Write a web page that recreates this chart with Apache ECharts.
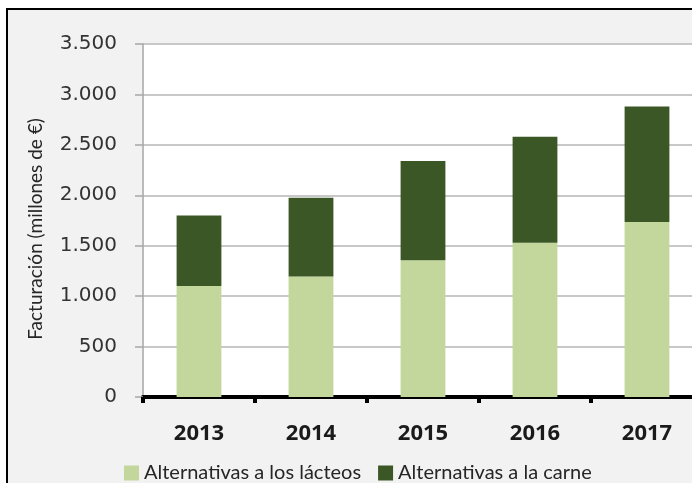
<!DOCTYPE html>
<html>
<head>
<meta charset="utf-8">
<script src="https://cdn.jsdelivr.net/npm/echarts@6/dist/echarts.min.js"></script>
<style>
  html, body { margin: 0; padding: 0; background: #ffffff; overflow: hidden; }
  #wrap { position: relative; width: 720px; height: 483px; overflow: hidden; background: #f2f2f2; }
  #frame {
    position: absolute; left: 6px; top: 8px; width: 900px; height: 700px;
    border-left: 2.5px solid #000000; border-top: 2.5px solid #000000;
  }
  #cutL { position: absolute; left: 0; top: 0; width: 6px; height: 483px; background: #ffffff; }
  #cutT { position: absolute; left: 0; top: 0; width: 720px; height: 8px; background: #ffffff; }
  #chart { position: absolute; left: 0; top: 0; width: 720px; height: 483px; }
</style>
</head>
<body>
<div id="wrap">
  <div id="cutL"></div>
  <div id="cutT"></div>
  <div id="frame"></div>
  <div id="chart"></div>
</div>
<script>
// Facturación anual de alternativas vegetales (millones de €)
const years = ['2013', '2014', '2015', '2016', '2017'];
const lacteos = [1100, 1195, 1355, 1530, 1735];
const carne = [700, 780, 985, 1050, 1145];
const yTicks = [0, 500, 1000, 1500, 2000, 2500, 3000, 3500];
const yTitle = 'Facturación (millones de €)';

const seriesNames = ['Alternativas a los lácteos', 'Alternativas a la carne'];
const colors = ['#c3d69b', '#3b5725'];

function fmtThousands(v) {
  return String(v).replace(/\B(?=(\d{3})+(?!\d))/g, '.');
}

const chart = echarts.init(document.getElementById('chart'), null, { renderer: 'canvas' });

chart.setOption({
  animation: false,
  backgroundColor: 'transparent',
  graphic: [{
    // vertical axis title, read bottom-to-top
    type: 'text',
    x: 36, y: 229,
    rotation: Math.PI / 2,
    silent: true,
    style: {
      text: yTitle,
      align: 'center', verticalAlign: 'middle',
      fontFamily: 'Lato', fontSize: 19, fill: '#262626'
    }
  }],
  grid: {
    left: 143, top: 44, width: 560, bottom: 86,
    outerBoundsMode: 'none',
    show: true, backgroundColor: '#ffffff', borderWidth: 0
  },
  legend: {
    left: 119, top: 458,
    icon: 'rect', itemWidth: 15, itemHeight: 15, itemGap: 17,
    textStyle: { fontFamily: 'Lato', fontSize: 20, color: '#262626' },
    data: seriesNames
  },
  xAxis: {
    type: 'category',
    data: years,
    axisLine: { lineStyle: { color: '#000000', width: 4 } },
    axisTick: { show: true, length: 6, lineStyle: { color: '#000000', width: 4 } },
    axisLabel: {
      margin: 26, fontFamily: 'Open Sans', fontWeight: 'bold', fontSize: 22, color: '#1a1a1a'
    }
  },
  yAxis: {
    type: 'value',
    min: yTicks[0], max: yTicks[yTicks.length - 1], interval: 500,
    axisLine: { show: true, lineStyle: { color: '#a6a6a6', width: 1.5 } },
    axisTick: { show: true, length: 8, lineStyle: { color: '#a6a6a6', width: 1.5 } },
    splitLine: { lineStyle: { color: '#c8c8c8', width: 2 } },
    axisLabel: {
      margin: 26, fontFamily: 'DejaVu Sans', fontSize: 20, color: '#333333',
      formatter: v => fmtThousands(v)
    }
  },
  series: [
    {
      name: seriesNames[0], type: 'bar', stack: 'total', data: lacteos,
      barWidth: '40%', itemStyle: { color: colors[0] }
    },
    {
      name: seriesNames[1], type: 'bar', stack: 'total', data: carne,
      barWidth: '40%', itemStyle: { color: colors[1] }
    }
  ]
});
</script>
</body>
</html>
